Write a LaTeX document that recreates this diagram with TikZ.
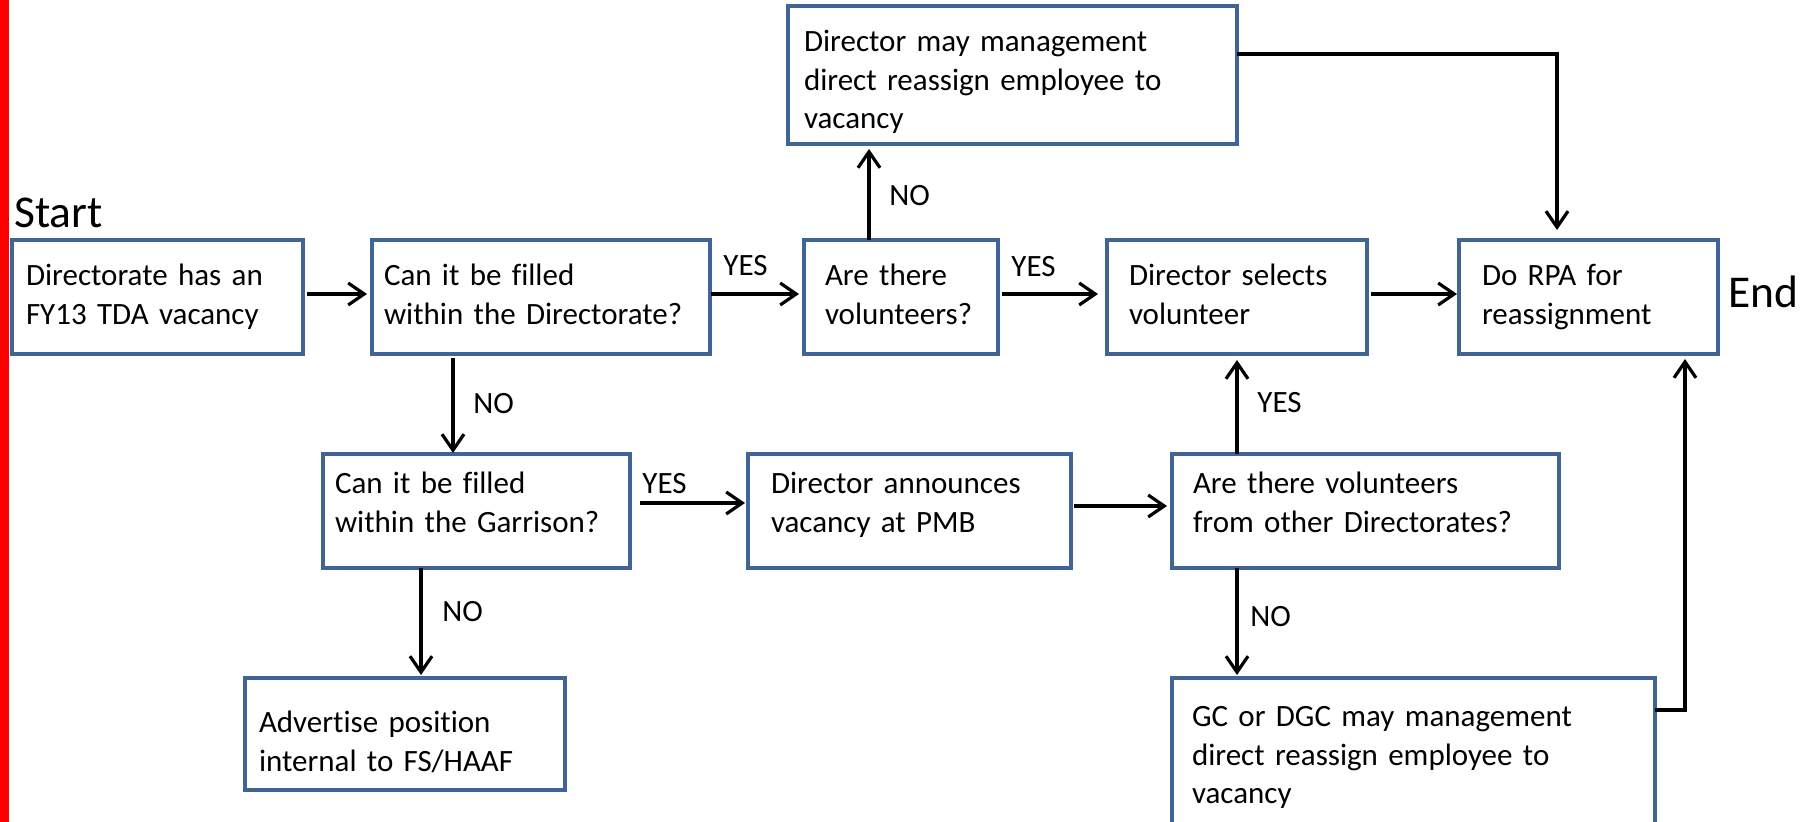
\documentclass[tikz,border=0pt]{standalone}
\usepackage{fontspec}
\setmainfont{Carlito}[Ligatures={NoCommon,NoRare}]
\usetikzlibrary{arrows.meta}
\definecolor{boxblue}{RGB}{65,100,150}

\begin{document}
\begin{tikzpicture}
      [x = 0.5pt, y = -0.5pt,
      stepbox/.style= {
         draw = boxblue,
         line width = 1.9pt,
         fill = white,
         anchor = north west,
         align = left,
         inner ysep = 0pt,
         outer sep = 0pt,
         font = \fontsize{15.5}{19.25}\selectfont
      },
      toprow/.style= {text height = 23pt, text depth = 34pt},
      midrow/.style= {text height = 20pt, text depth = 37pt},
      lbl/.style= {
         anchor = base west,
         inner sep = 0pt,
         font = \fontsize{15.5}{19.25}\selectfont
      },
      big/.style= {
         anchor = base west,
         inner sep = 0pt,
         font = \fontsize{22.75}{27}\selectfont
      },
      arrow/.style= {
         -{Straight Barb[length=8pt, width=11pt]},
         line width = 1.6pt,
         shorten <=2pt,
         shorten >=2.5pt
      }]
      \useasboundingbox (0,0) rectangle (1810,822);
      \fill[red] (0,0) rectangle (9,822);

      % columns of the vertical connectors
      \coordinate (colA) at (453,0);
      \coordinate (colB) at (421,0);
      \coordinate (colC) at (869,0);
      \coordinate (colD) at (1237,0);
      \coordinate (colE) at (1557,0);
      \coordinate (colF) at (1685,0);

      \node[big] (start) at (14,228) {Start};
      \node[big] (finish) at (1728,308) {End};

      % first row
      \node[stepbox, toprow, text width=131.5pt, inner xsep=7pt] (dirvac) at (12,240) {Directorate has an\\FY13 TDA vacancy};
      \node[stepbox, toprow, text width=157pt, inner xsep=6pt] (fillwithin) at (372,240) {Can it be filled\\within the Directorate?};
      \node[stepbox, toprow, text width=76pt, inner xsep=10.5pt] (vols) at (804,240) {Are there\\volunteers?};
      \node[stepbox, toprow, text width=108pt, inner xsep=11pt] (selvol) at (1107,240) {Director selects\\volunteer};
      \node[stepbox, toprow, text width=106.5pt, inner xsep=11.5pt] (rpa) at (1459,240) {Do RPA for\\reassignment};
      \node[stepbox, text height=23pt, text depth=46pt, text width=208.5pt, inner xsep=8pt] (mgmt) at (788,6) {Director may management\\direct reassign employee to\\vacancy};

      % second row
      \node[stepbox, midrow, text width=141.5pt, inner xsep=6pt] (fillgar) at (323,454) {Can it be filled\\within the Garrison?};
      \node[stepbox, midrow, text width=138.5pt, inner xsep=11.5pt] (announce) at (748,454) {Director announces\\vacancy at PMB};
      \node[stepbox, midrow, text width=172.5pt, inner xsep=10.5pt] (othervol) at (1172,454) {Are there volunteers\\from other Directorates?};

      % last row
      \node[stepbox, text height=27.5pt, text depth=28.5pt, text width=146pt, inner xsep=7pt] (advert) at (245,678) {Advertise position\\internal to FS/HAAF};
      \node[stepbox, text height=24.5pt, text depth=49.5pt, text width=221.5pt, inner xsep=10pt] (gcdgc) at (1172,678) {GC or DGC may management\\direct reassign employee to\\vacancy};

      \node[lbl] (yes1) at (723,276) {YES};
      \node[lbl] (no1) at (889,206) {NO};
      \node[lbl] (yes2) at (1011,277) {YES};
      \node[lbl] (no2) at (473,414) {NO};
      \node[lbl] (yes3) at (642,494) {YES};
      \node[lbl] (yes4) at (1257,413) {YES};
      \node[lbl] (no3) at (1250,627) {NO};
      \node[lbl] (no4) at (442,622) {NO};

      \draw[arrow] ([yshift=1.5pt]dirvac.east) -- ([yshift=1.5pt]fillwithin.west);
      \draw[arrow, shorten <=0.5pt] ([yshift=1.5pt]fillwithin.east) -- ([yshift=1.5pt]vols.west);
      \draw[arrow, shorten >=4.5pt] ([yshift=1.5pt]vols.east) -- ([yshift=1.5pt]selvol.west);
      \draw[arrow, shorten >=1pt] ([yshift=1.5pt]selvol.east) -- ([yshift=1.5pt]rpa.west);
      \draw[arrow, shorten <=0pt] (vols.north -| colC) -- (mgmt.south -| colC);
      \draw[arrow, shorten <=0pt, shorten >=5pt] ([yshift=10.5pt]mgmt.east) -| (rpa.north -| colE);
      \draw[arrow, shorten >=0.5pt] (fillwithin.south -| colA) -- (fillgar.north -| colA);
      \draw[arrow, shorten <=5pt, shorten >=1.5pt] ([yshift=4pt]fillgar.east) -- ([yshift=4pt]announce.west);
      \draw[arrow, shorten <=1.5pt] ([yshift=2.5pt]announce.east) -- ([yshift=2.5pt]othervol.west);
      \draw[arrow, shorten <=0pt, shorten >=3pt] (othervol.north -| colD) -- (selvol.south -| colD);
      \draw[arrow, shorten <=0pt, shorten >=1.5pt] (othervol.south -| colD) -- (gcdgc.north -| colD);
      \draw[arrow, shorten <=0pt, shorten >=1.5pt] (fillgar.south -| colB) -- (advert.north -| colB);
      \draw[arrow, shorten <=0pt] ([yshift=21pt]gcdgc.east) -| (rpa.south -| colF);

   \end{tikzpicture}
\end{document}
